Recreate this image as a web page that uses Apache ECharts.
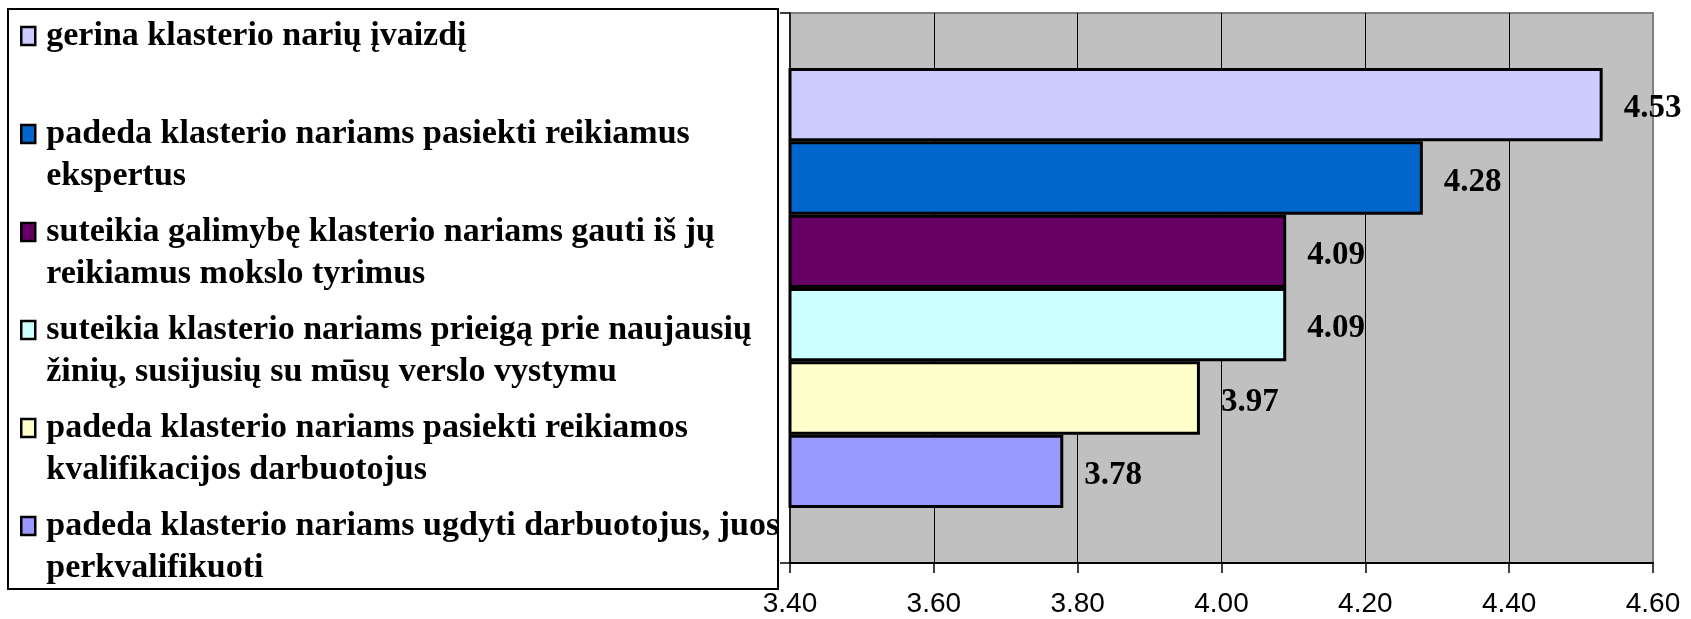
<!DOCTYPE html>
<html>
<head>
<meta charset="utf-8">
<script src="https://cdn.jsdelivr.net/npm/echarts@6/dist/echarts.min.js"></script>
<style>
html, body { margin: 0; padding: 0; background: #fff; }
#chart { width: 1691px; height: 619px; }
</style>
</head>
<body>
<div id="chart"></div>
<script>
// legend text, split the way the original wraps it
var legendLines = [
    ['gerina klasterio narių įvaizdį', ''],
    ['padeda klasterio nariams pasiekti reikiamus', 'ekspertus'],
    ['suteikia galimybę klasterio nariams gauti iš jų', 'reikiamus mokslo tyrimus'],
    ['suteikia klasterio nariams prieigą prie naujausių', 'žinių, susijusių su mūsų verslo vystymu'],
    ['padeda klasterio nariams pasiekti reikiamos', 'kvalifikacijos darbuotojus'],
    ['padeda klasterio nariams ugdyti darbuotojus, juos', 'perkvalifikuoti']
];
var seriesNames = legendLines.map(function (l) { return (l[0] + ' ' + l[1]).trim(); });
var seriesValues = [4.53, 4.28, 4.09, 4.09, 3.97, 3.78];
var seriesColors = ['#CCCCFF', '#0066CC', '#660066', '#CCFFFF', '#FFFFCC', '#9999FF'];
var xTickLabels = ['3.40', '3.60', '3.80', '4.00', '4.20', '4.40', '4.60'];

var chart = echarts.init(document.getElementById('chart'));

var series = seriesNames.map(function (name, i) {
    return {
        name: name,
        type: 'bar',
        data: [seriesValues[i]],
        barGap: '0%',
        barCategoryGap: '20%',
        itemStyle: {
            color: seriesColors[i],
            borderColor: '#000',
            borderWidth: 3
        },
        label: {
            show: true,
            position: 'right',
            distance: 21,
            offset: [0, 4],
            formatter: function (p) { return p.value.toFixed(2); },
            fontFamily: 'Liberation Serif',
            fontWeight: 'bold',
            fontSize: 33,
            color: '#000'
        }
    };
});

chart.setOption({
    animation: false,
    backgroundColor: '#fff',
    graphic: [{
        type: 'rect',
        z: 0,
        shape: {x: 8, y: 9, width: 770, height: 580},
        style: {fill: '#fff', stroke: '#000', lineWidth: 2}
    }],
    legend: {
        orient: 'vertical',
        left: 20,
        top: -30,
        height: 720,
        padding: 0,
        z: 5,
        itemGap: -34,
        itemWidth: 14,
        itemHeight: 18,
        icon: 'rect',
        selectedMode: false,
        data: seriesNames,
        itemStyle: {borderColor: '#000', borderWidth: 2.5},
        formatter: function (name) {
            // blank first line keeps the icon level with the first text line
            var l = legendLines[seriesNames.indexOf(name)];
            return ' \n' + l[0] + '\n' + (l[1] || ' ');
        },
        textStyle: {
            fontFamily: 'Liberation Serif',
            fontWeight: 'bold',
            fontSize: 34,
            lineHeight: 42,
            color: '#000',
            padding: [6, 0, 0, 6]
        }
    },
    grid: {
        left: 790,
        right: 38,
        top: 13,
        bottom: 56,
        show: true,
        backgroundColor: '#C0C0C0',
        borderColor: '#808080',
        borderWidth: 2
    },
    xAxis: {
        type: 'value',
        min: parseFloat(xTickLabels[0]),
        max: parseFloat(xTickLabels[xTickLabels.length - 1]),
        interval: 0.2,
        axisLine: {show: true, lineStyle: {color: '#000', width: 2}},
        axisTick: {show: true, length: 10, lineStyle: {color: '#000', width: 1.5}},
        axisLabel: {
            margin: 27,
            fontFamily: 'Liberation Sans',
            fontSize: 28,
            color: '#000',
            formatter: function (v) {
                return xTickLabels[Math.round((v - 3.4) / 0.2)];
            }
        },
        splitLine: {
            show: true,
            showMinLine: false,
            showMaxLine: false,
            lineStyle: {color: '#000', width: 1}
        }
    },
    yAxis: {
        type: 'category',
        data: [''],
        axisLine: {show: true, lineStyle: {color: '#000', width: 1.5}},
        axisTick: {show: true, length: 10, lineStyle: {color: '#000', width: 1.5}},
        axisLabel: {show: false},
        splitLine: {show: false}
    },
    series: series
});
</script>
</body>
</html>
